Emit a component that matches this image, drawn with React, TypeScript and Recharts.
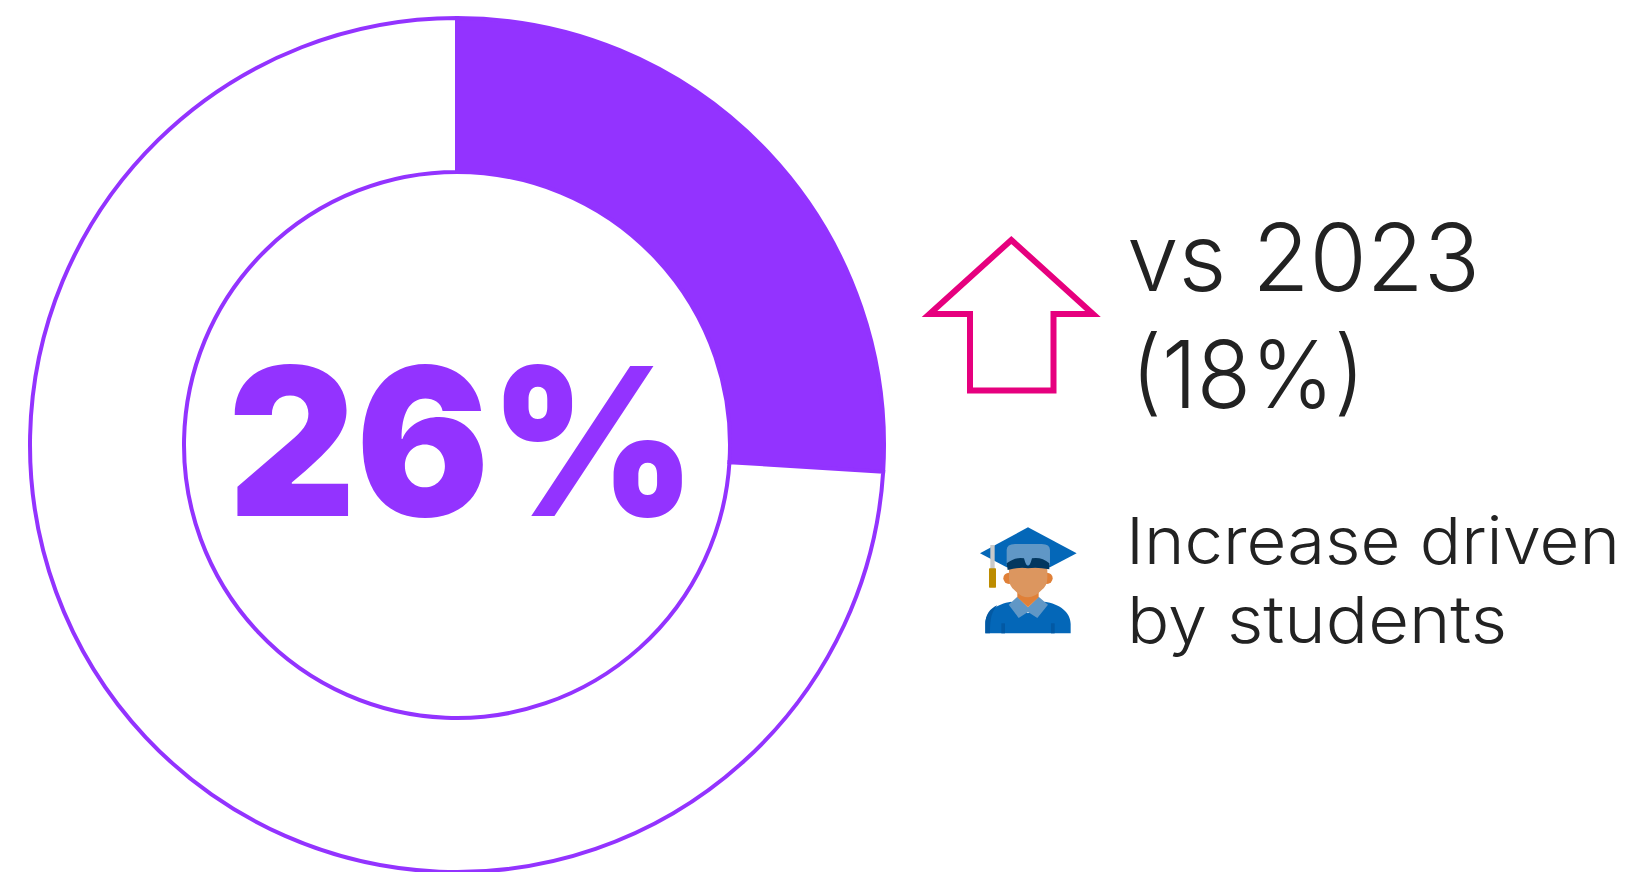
import React from "react";
import { PieChart, Pie, Cell } from "recharts";

const sliceNames = ["Share", "Remainder"];
const sliceValues = [26, 74];
const sliceFills = ["#9333ff", "#ffffff"];
const headlineLabel = "26%";
const comparisonLines = ["vs 2023", "(18%)"];
const driverLines = ["Increase driven", "by students"];

const PURPLE = "#9333ff";
const PINK = "#e6007e";
const INK = "#222222";
const FONT = "Inter, Lato, sans-serif";

const pieData = sliceNames.map((name, i) => ({ name, value: sliceValues[i] }));

// Mortarboard student pictogram, drawn on a 480x450 grid.
function StudentIcon() {
  return (
    <g transform="translate(940,500) scale(0.3333)">
      <path d="M136 400 V372 C136 335 170 312 214 305 L264 340 L314 305 C358 312 392 335 392 372 V400 Z" fill="#0467b8" />
      <path d="M136 400 V372 C136 345 150 325 172 316 C155 335 150 355 150 400 Z" fill="#0359a3" />
      <rect x="184" y="370" width="11" height="30" fill="#0359a3" />
      <rect x="333" y="370" width="11" height="30" fill="#0359a3" />
      <path d="M206 314 L232 290 L264 322 L296 290 L324 314 L292 354 L264 336 L236 354 Z" fill="#6097c6" />
      <path d="M232 275 H296 V292 L264 322 L232 292 Z" fill="#e08038" />
      <circle cx="207" cy="235" r="17" fill="#e08038" />
      <circle cx="321" cy="235" r="17" fill="#e08038" />
      <path d="M207 200 H322 V235 Q322 258 305 270 Q285 292 264 292 Q243 292 223 270 Q207 258 207 235 Z" fill="#dc965f" />
      <path d="M120 160 L264 82 L410 160 L330 202 H200 Z" fill="#0467b8" />
      <path d="M200 150 Q200 132 225 132 H305 Q330 132 330 150 V196 H200 Z" fill="#6097c6" />
      <path d="M200 190 Q225 170 252 175 Q258 198 264 198 Q270 198 276 175 Q305 170 328 190 V208 Q290 200 264 205 Q240 200 203 210 Z" fill="#02375f" />
      <rect x="151" y="135" width="13" height="72" fill="#c9c9c9" />
      <rect x="147" y="205" width="21" height="58" rx="2" fill="#bd8c00" />
    </g>
  );
}

export default function App() {
  return (
    <div style={{ position: "absolute", left: 0, top: 0, width: 1628, height: 872, background: "#fff" }}>
      <PieChart width={1628} height={872} margin={{ top: 0, right: 0, bottom: 0, left: 0 }}>
        <Pie
          data={pieData}
          dataKey="value"
          nameKey="name"
          cx={457}
          cy={445}
          innerRadius={273}
          outerRadius={427}
          startAngle={90}
          endAngle={-270}
          stroke={PURPLE}
          strokeWidth={4}
          isAnimationActive={false}
        >
          {sliceFills.map((fill, i) => (
            <Cell key={sliceNames[i]} fill={fill} />
          ))}
        </Pie>

        <text x={228} y={516} fontFamily={FONT} fontWeight={900} fontSize={206} fill={PURPLE} textLength={468} lengthAdjust="spacingAndGlyphs">
          {headlineLabel}
        </text>

        <polygon
          points="1011.3,240 1093,314 1053.5,314 1053.5,390.5 970,390.5 970,314 929.5,314"
          fill="#fff"
          stroke={PINK}
          strokeWidth={6}
          strokeMiterlimit={4}
        />

        <text x={1127} y={291} fontFamily={FONT} fontWeight={300} fontSize={94} fill={INK} textLength={353} lengthAdjust="spacingAndGlyphs">
          {comparisonLines[0]}
        </text>
        <text x={1131} y={408} fontFamily={FONT} fontWeight={300} fontSize={94} fill={INK} textLength={234} lengthAdjust="spacingAndGlyphs">
          {comparisonLines[1]}
        </text>

        <StudentIcon />

        <text x={1126} y={564} fontFamily={FONT} fontWeight={300} fontSize={65} fill={INK} textLength={494} lengthAdjust="spacingAndGlyphs">
          {driverLines[0]}
        </text>
        <text x={1127} y={643} fontFamily={FONT} fontWeight={300} fontSize={65} fill={INK} textLength={380} lengthAdjust="spacingAndGlyphs">
          {driverLines[1]}
        </text>
      </PieChart>
    </div>
  );
}
